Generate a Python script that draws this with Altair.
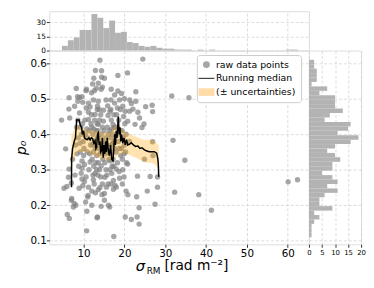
import altair as alt
import pandas as pd

# ---------------- data ----------------
sigma_rm = [4.6, 5.2, 5.6, 5.9, 6.0,
    6.4, 6.45, 6.6, 6.3, 6.45, 6.5, 7.0, 7.0, 7.1, 7.5, 7.3,
    7.8, 8.2, 8.5, 8.6, 8.1, 7.7, 8.3, 8.0, 8.4, 8.7, 8.9, 8.8, 7.9, 8.6,
    9.0, 9.0, 9.6, 9.8, 9.6, 9.6, 9.6, 10.2, 10.5, 9.3, 9.5, 9.9, 10.1, 9.2, 10.3, 9.4, 10.0, 9.7, 10.4, 9.1, 10.2, 9.8,
    10.6, 10.7, 10.65, 11.2, 11.6, 11.2, 11.2, 11.6, 11.2, 11.1, 11.0, 10.8, 10.75, 11.0, 11.4, 10.9, 11.7, 11.3, 10.6, 11.8, 11.5, 10.8,
    12.2, 12.5, 12.9, 11.95, 12.65, 13.1, 12.4, 12.8, 12.4, 12.0, 13.3,
    12.0, 12.3, 12.6, 12.9, 13.2, 12.1, 12.5, 12.8, 13.1, 12.2, 12.7, 13.3, 12.4, 13.0, 12.6, 13.2, 12.3, 11.95, 13.35, 12.0, 12.9, 13.3, 12.5,
    14.0, 14.4, 14.4, 13.6, 14.6, 14.3, 13.6, 13.4, 13.6, 14.3, 13.6, 14.3, 13.4,
    13.5, 13.8, 14.1, 14.4, 14.7, 13.6, 13.9, 14.2, 14.6, 13.7, 14.0, 14.3, 14.6, 13.9, 14.2, 14.7, 13.5, 14.0, 14.5, 13.8,
    15.1, 15.5, 14.85, 14.85, 16.0, 15.2, 15.6, 15.1, 15.1, 16.1,
    15.0, 15.3, 15.6, 15.9, 16.2, 15.2, 15.5, 15.8, 16.1, 15.4, 15.7, 16.0, 15.0, 15.9,
    16.75, 16.7, 16.7, 17.6, 17.6, 17.2, 16.4, 17.4, 17.7,
    16.4, 16.6, 16.8, 17.0, 17.2, 17.4, 16.5, 16.9, 17.3, 16.6, 17.1, 17.5, 16.8, 17.4, 16.5, 17.0, 17.6, 16.9, 17.3, 16.7, 17.1, 16.45, 17.55,
    18.4, 18.4, 18.8, 18.3, 18.0, 18.0, 18.8,
    17.9, 18.2, 18.5, 18.8, 19.1, 18.0, 18.6, 19.0, 18.3, 18.7, 19.0, 18.1,
    19.3, 19.6, 20.2,
    19.4, 19.7, 20.0, 20.3, 19.5, 19.8, 20.1, 20.4, 19.6, 19.9, 20.5, 19.3, 20.2, 19.5, 20.0, 20.4, 19.9,
    20.75, 20.8, 20.8, 20.85, 21.3, 21.3, 21.7, 21.7, 21.2,
    22.8, 22.8, 22.6, 23.3, 22.1, 23.0, 23.1, 23.2,
    24.5, 23.7, 24.3, 23.6, 23.6, 24.8,
    25.2, 24.9, 25.6, 26.3,
    26.8, 26.9, 26.9, 27.5, 27.0,
    28.1, 28.1,
    31.6, 31.9, 32.3, 34.8, 35.8, 38.2, 41.3, 60.1, 62.4]

p0 = [0.44, 0.248, 0.359, 0.253, 0.174,
    0.471, 0.503, 0.446, 0.279, 0.302, 0.163, 0.263, 0.214, 0.219, 0.195, 0.33,
    0.479, 0.529, 0.506, 0.493, 0.2, 0.205, 0.42, 0.37, 0.345, 0.39, 0.248, 0.31, 0.285, 0.44,
    0.504, 0.46, 0.506, 0.49, 0.325, 0.304, 0.274, 0.267, 0.209, 0.42, 0.4, 0.38, 0.36, 0.35, 0.44, 0.29, 0.34, 0.43, 0.4, 0.375, 0.315, 0.255,
    0.523, 0.527, 0.474, 0.488, 0.477, 0.462, 0.442, 0.322, 0.251, 0.228, 0.223, 0.183, 0.128, 0.39, 0.41, 0.35, 0.37, 0.3, 0.28, 0.43, 0.345, 0.415,
    0.542, 0.558, 0.58, 0.517, 0.523, 0.53, 0.497, 0.456, 0.272, 0.2, 0.165,
    0.42, 0.4, 0.38, 0.36, 0.34, 0.33, 0.31, 0.29, 0.41, 0.37, 0.44, 0.39, 0.35, 0.32, 0.26, 0.3, 0.285, 0.455, 0.47, 0.24, 0.235, 0.43, 0.415,
    0.609, 0.579, 0.561, 0.544, 0.533, 0.527, 0.493, 0.479, 0.428, 0.311, 0.244, 0.197, 0.167,
    0.41, 0.39, 0.37, 0.35, 0.33, 0.32, 0.3, 0.28, 0.26, 0.36, 0.345, 0.4, 0.42, 0.44, 0.455, 0.38, 0.285, 0.25, 0.23, 0.47,
    0.558, 0.497, 0.468, 0.437, 0.453, 0.279, 0.251, 0.233, 0.214, 0.2,
    0.41, 0.39, 0.37, 0.35, 0.33, 0.32, 0.3, 0.42, 0.4, 0.345, 0.285, 0.26, 0.36, 0.48,
    0.527, 0.497, 0.47, 0.511, 0.488, 0.428, 0.195, 0.112, 0.256,
    0.41, 0.39, 0.37, 0.35, 0.33, 0.31, 0.3, 0.29, 0.27, 0.345, 0.4, 0.38, 0.44, 0.455, 0.325, 0.31, 0.36, 0.415, 0.245, 0.26, 0.375, 0.465, 0.42,
    0.566, 0.522, 0.497, 0.474, 0.302, 0.251, 0.276,
    0.42, 0.4, 0.38, 0.36, 0.34, 0.35, 0.44, 0.41, 0.32, 0.295, 0.47, 0.455,
    0.515, 0.479, 0.167,
    0.41, 0.39, 0.37, 0.35, 0.33, 0.45, 0.43, 0.4, 0.3, 0.28, 0.32, 0.36, 0.465, 0.26, 0.5, 0.24, 0.345,
    0.573, 0.437, 0.316, 0.23, 0.497, 0.465, 0.487, 0.16, 0.38,
    0.52, 0.493, 0.428, 0.462, 0.471, 0.224, 0.167, 0.282,
    0.612, 0.446, 0.419, 0.193, 0.147, 0.429,
    0.478, 0.33, 0.24, 0.281,
    0.482, 0.464, 0.379, 0.203, 0.34,
    0.251, 0.28,
    0.508, 0.383, 0.237, 0.327, 0.503, 0.23, 0.186, 0.266, 0.272]

median_x = [7.04, 7.06, 7.3, 7.7, 8.0, 8.3, 8.6, 8.9, 9.2, 9.5, 9.7, 10.0, 10.2, 10.5, 10.9,
    11.3, 11.6, 11.9, 12.2, 12.5, 12.8, 13.0, 13.2, 13.4, 13.6, 13.8, 14.0, 14.2, 14.4, 14.6,
    14.8, 15.0, 15.2, 15.4, 15.6, 15.8, 16.0, 16.3, 16.6, 16.9, 17.2, 17.4, 17.6, 17.8, 18.0,
    18.2, 18.5, 18.7, 18.9, 19.1, 19.3, 19.6, 19.9, 20.2, 20.5, 20.8, 21.2, 21.7, 22.2, 22.7,
    23.3, 23.8, 24.3, 24.9, 25.5, 26.1, 26.7, 27.3, 27.9, 28.2, 28.3, 28.4]
median_p0 = [0.251, 0.33, 0.36, 0.38, 0.39, 0.44, 0.44, 0.44, 0.425, 0.42, 0.40, 0.41, 0.39, 0.387, 0.385,
    0.39, 0.384, 0.39, 0.388, 0.375, 0.382, 0.36, 0.365, 0.40, 0.404, 0.37, 0.38, 0.35, 0.354, 0.39,
    0.334, 0.37, 0.345, 0.38, 0.35, 0.39, 0.36, 0.34, 0.37, 0.33, 0.325, 0.36, 0.40, 0.37, 0.41,
    0.39, 0.45, 0.40, 0.42, 0.38, 0.40, 0.375, 0.39, 0.37, 0.385, 0.37, 0.372, 0.376, 0.37, 0.366,
    0.367, 0.36, 0.362, 0.356, 0.353, 0.351, 0.351, 0.351, 0.347, 0.33, 0.316, 0.28]

band_x = [7.0, 7.5, 8.5, 9.5, 10.5, 11.5, 12.5, 13.5, 14.5, 15.5, 16.5, 17.5, 18.5, 19.5, 20.5,
    21.5, 22.5, 23.5, 24.5, 25.5, 26.5, 27.5, 28.4]
band_lo = [0.30, 0.33, 0.35, 0.35, 0.35, 0.345, 0.34, 0.335, 0.33, 0.33, 0.325, 0.33, 0.345, 0.345, 0.345,
    0.34, 0.335, 0.33, 0.325, 0.32, 0.32, 0.315, 0.30]
band_hi = [0.39, 0.41, 0.425, 0.42, 0.415, 0.41, 0.41, 0.41, 0.405, 0.405, 0.405, 0.42, 0.43, 0.41, 0.405,
    0.40, 0.395, 0.39, 0.385, 0.385, 0.385, 0.38, 0.37]

# top histogram: 40 bins of sigma_RM
top_start = 4.7
top_width = 1.445
top_counts = [5, 11, 14, 22, 22, 39, 35, 24, 32, 19, 20, 9, 8, 5, 4, 5, 3, 2, 2, 1,
    1, 1, 0, 1, 0, 1, 0, 0, 0, 0, 0, 0, 0, 0, 0, 0, 0, 0, 1, 1]

# right histogram: 40 bins of p0 (from bottom to top)
right_start = 0.11
right_width = 0.0125
right_counts = [1, 1, 1, 2, 4, 2, 9, 4, 4, 6, 11, 7, 11, 9, 5, 9, 9, 12, 10, 7,
    10, 16, 19, 11, 15, 16, 6, 8, 13, 10, 10, 10, 4, 7, 1, 3, 3, 3, 2, 2]

series_names = ["raw data points", "Running median", "(\u00b1 uncertainties)"]
x_ticks = [10, 20, 30, 40, 50, 60]
y_ticks = [0.1, 0.2, 0.3, 0.4, 0.5, 0.6]

# ---------------- tables ----------------
pts_df = pd.DataFrame({"s": sigma_rm, "p": p0, "series": series_names[0]})
med_df = pd.DataFrame({"s": median_x, "p": median_p0})
band_df = pd.DataFrame({"s": band_x, "lo": band_lo, "hi": band_hi})
top_df = pd.DataFrame({
    "a": [top_start + i * top_width for i in range(len(top_counts))],
    "b": [top_start + (i + 1) * top_width for i in range(len(top_counts))],
    "n": top_counts})
right_df = pd.DataFrame({
    "a": [right_start + i * right_width for i in range(len(right_counts))],
    "b": [right_start + (i + 1) * right_width for i in range(len(right_counts))],
    "n": right_counts})

FONT = "DejaVu Sans"
GRID = dict(grid=True, gridColor="#d4d4d4", gridDash=[3, 2], gridWidth=0.8)

xscale = alt.Scale(domain=[1.6, 65.2], nice=False, zero=False)
yscale = alt.Scale(domain=[0.09, 0.636], nice=False, zero=False)

W, H = 264, 197
TOPH = 40

legend = alt.Legend(title=None, orient="none", legendX=150, legendY=TOPH + 4.5,
                    labelFont=FONT, labelFontSize=9.5,
                    labelColor="black", symbolSize=49, labelOffset=5, padding=5,
                    rowPadding=3, fillColor="white", strokeColor="#cccccc", cornerRadius=3)

x_axis = alt.Axis(values=x_ticks, title=None, labelFontSize=10.5, labelFont=FONT, labelColor="black",
                  tickSize=3, labelPadding=1, domain=False, tickColor="#333", labelOverlap=False,
                  labelFlush=False, **GRID)
y_axis = alt.Axis(values=y_ticks, format=".1f", title="p\u2080", titleFontStyle="italic",
                  titleFontWeight="normal", titleFontSize=14, titleFont=FONT, titlePadding=2,
                  labelFontSize=10.5, labelFont=FONT, labelColor="black", labelOverlap=False,
                  tickSize=3, labelPadding=0, domain=False, tickColor="#333", **GRID)

points = alt.Chart(pts_df).mark_point(filled=True, size=30, strokeWidth=0).encode(
    x=alt.X("s:Q", scale=xscale, axis=x_axis),
    y=alt.Y("p:Q", scale=yscale, axis=y_axis),
    color=alt.Color("series:N", scale=alt.Scale(domain=series_names, range=["#808080", "#000000", "#FFDCA8"]), legend=legend),
    shape=alt.Shape("series:N", scale=alt.Scale(domain=series_names, range=[
        "circle", "M-2.3,-0.15H2.3V0.15H-2.3Z", "M-2.3,-1.1H2.3V1.1H-2.3Z"]), legend=legend),
    opacity=alt.Opacity("series:N", scale=alt.Scale(domain=series_names, range=[0.7, 1.0, 1.0]), legend=legend),
)

band = alt.Chart(band_df).mark_area(color="#FFA500", opacity=0.3).encode(
    x=alt.X("s:Q", scale=xscale, axis=x_axis), y=alt.Y("lo:Q", scale=yscale, axis=y_axis), y2="hi:Q")

med = alt.Chart(med_df).mark_line(color="black", strokeWidth=1.5).encode(
    x=alt.X("s:Q", scale=xscale, sort=None, axis=x_axis), y=alt.Y("p:Q", scale=yscale, axis=y_axis))

t1 = alt.Chart(pd.DataFrame({"t": ["\u03c3"]})).mark_text(
    font=FONT, fontSize=15, fontStyle="italic", align="left", baseline="alphabetic").encode(
    text="t:N", x=alt.value(88), y=alt.value(H + 27))
t2 = alt.Chart(pd.DataFrame({"t": ["RM"]})).mark_text(
    font=FONT, fontSize=9, align="left", baseline="alphabetic").encode(
    text="t:N", x=alt.value(99), y=alt.value(H + 30))
t3 = alt.Chart(pd.DataFrame({"t": ["[rad m\u207b\u00b2]"]})).mark_text(
    font=FONT, fontSize=14, align="left", baseline="alphabetic").encode(
    text="t:N", x=alt.value(117), y=alt.value(H + 26.5))

main = alt.layer(points, band, med, t1, t2, t3).properties(width=W, height=H)

NOEXT = dict(labels=False, ticks=False, domain=False, title=None, minExtent=0, maxExtent=0)

top = alt.Chart(top_df).mark_rect(color="#b3b3b3").encode(
    x=alt.X("a:Q", scale=xscale, axis=alt.Axis(values=x_ticks, orient="top", **NOEXT, **GRID)),
    x2="b:Q",
    y=alt.Y("n:Q", scale=alt.Scale(domain=[0, 42], nice=False),
            axis=alt.Axis(values=[0, 15, 30], title=None, labelFontSize=7.5, labelFont=FONT, labelColor="black",
                          tickSize=3, labelPadding=1, domain=False, tickColor="#333", labelOverlap=False,
                          labelFlush=False, **GRID)),
    y2=alt.datum(0),
).properties(width=W, height=TOPH)

right = alt.Chart(right_df).mark_rect(color="#b3b3b3").encode(
    y=alt.Y("a:Q", scale=yscale, axis=alt.Axis(values=y_ticks, orient="right", **NOEXT, **GRID)),
    y2="b:Q",
    x=alt.X("n:Q", scale=alt.Scale(domain=[0, 20], nice=False),
            axis=alt.Axis(values=[0, 5, 10, 15, 20], title=None, labelFontSize=7, labelFont=FONT, labelColor="black",
                          tickSize=3, labelPadding=1, domain=False, tickColor="#333", labelOverlap=False,
                          labelFlush=False, **GRID)),
    x2=alt.datum(0),
).properties(width=53, height=H)

blank = alt.Chart(pd.DataFrame({"a": [0]})).mark_point(opacity=0).encode(
    x=alt.X("a:Q", axis=None), y=alt.Y("a:Q", axis=None)
).properties(width=53, height=TOPH, view=alt.ViewBackground(stroke="transparent"))

chart = alt.concat(top, blank, main, right, columns=2, spacing=0, align="each", bounds="flush").properties(
    padding={"left": 5, "top": 0, "right": 0, "bottom": 0}
).configure_view(
    stroke="#222222", strokeWidth=1
).configure(background="white", font=FONT)

chart.save("out.html", embed_options={"renderer": "svg", "actions": False})
